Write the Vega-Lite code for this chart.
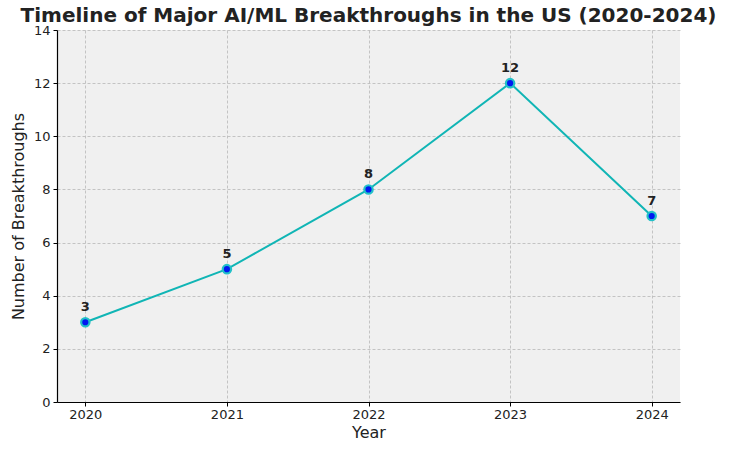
{
  "$schema": "https://vega.github.io/schema/vega-lite/v6.json",
  "autosize": {"type": "none"},
  "padding": {"left": 57, "top": 30, "right": 50, "bottom": 51},
  "width": 623,
  "height": 372,
  "background": "white",
  "config": {
    "font": "DejaVu Sans",
    "view": {"fill": "#f0f0f0", "stroke": null},
    "axis": {
      "domainColor": "black",
      "domainWidth": 1.2,
      "tickColor": "black",
      "tickSize": 4,
      "labelFont": "DejaVu Sans",
      "labelFontSize": 13,
      "labelColor": "#222",
      "titleFont": "DejaVu Sans",
      "titleFontSize": 16,
      "titleFontWeight": "normal",
      "titleColor": "#222",
      "gridColor": "#b8b8b8",
      "gridDash": [3, 2],
      "gridWidth": 0.8
    }
  },
  "title": {
    "text": "Timeline of Major AI/ML Breakthroughs in the US (2020-2024)",
    "font": "DejaVu Sans",
    "fontSize": 20,
    "fontWeight": "bold",
    "color": "#222",
    "anchor": "middle",
    "offset": -2
  },
  "data": {
    "values": [
      {"Year": 2020, "Breakthroughs": 3},
      {"Year": 2021, "Breakthroughs": 5},
      {"Year": 2022, "Breakthroughs": 8},
      {"Year": 2023, "Breakthroughs": 12},
      {"Year": 2024, "Breakthroughs": 7}
    ]
  },
  "encoding": {
    "x": {
      "field": "Year",
      "type": "quantitative",
      "scale": {"domain": [2019.8, 2024.2], "nice": false, "zero": false},
      "axis": {"values": [2020, 2021, 2022, 2023, 2024], "format": "d", "title": "Year", "titlePadding": 3, "labelPadding": 2}
    },
    "y": {
      "field": "Breakthroughs",
      "type": "quantitative",
      "scale": {"domain": [0, 14], "nice": false},
      "axis": {"values": [0, 2, 4, 6, 8, 10, 12, 14], "title": "Number of Breakthroughs", "titlePadding": 7, "labelPadding": 3}
    }
  },
  "layer": [
    {"mark": {"type": "line", "color": "#10b5b5", "strokeWidth": 2}},
    {"mark": {"type": "point", "filled": true, "fill": "#0018f0", "stroke": "#22c0c8", "strokeWidth": 2.2, "size": 70, "opacity": 1}},
    {
      "mark": {"type": "text", "fontWeight": "bold", "fontSize": 13, "color": "#222", "dy": -15, "font": "DejaVu Sans"},
      "encoding": {"text": {"field": "Breakthroughs", "type": "quantitative"}}
    }
  ]
}
